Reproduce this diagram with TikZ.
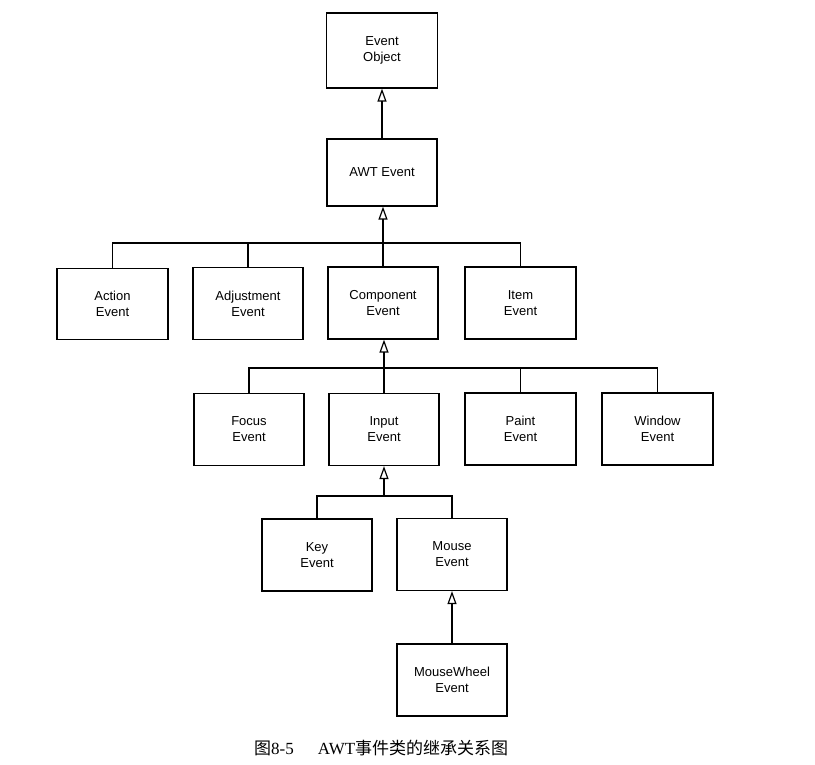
\documentclass[tikz,border=0pt]{standalone}
\usepackage{fontspec}
\setmainfont{Liberation Sans}
\newfontfamily\cjkfont{Noto Sans CJK SC}
\newfontfamily\capserif{Liberation Serif}
\usetikzlibrary{arrows.meta}
\begin{document}
\begin{tikzpicture}[x=1pt,y=-1pt,
  cls/.style={draw, line width=1.3pt, minimum width=110pt, minimum height=72pt,
    inner sep=0pt, align=center, font=\fontsize{13}{16}\selectfont},
  link/.style={line width=1.2pt},
  inherit/.style={line width=1.2pt, -{Triangle[open, width=9pt, length=13pt, line width=1.2pt]}}]
\useasboundingbox (0,0) rectangle (815,765);
\fill[white] (0,0) rectangle (815,765);
% nodes
\node[cls, minimum width=111pt, minimum height=75pt] (eo) at (382,50.5) {Event\\Object};
\node[cls, minimum height=67pt] (awt) at (382,172.5) {AWT Event};
\node[cls, minimum width=111pt, minimum height=71pt] (action) at (112.5,304) {Action\\Event};
\node[cls] (adjust) at (248,303.5) {Adjustment\\Event};
\node[cls] (component) at (383,303) {Component\\Event};
\node[cls, minimum width=111pt] (item) at (520.5,303) {Item\\Event};
\node[cls] (focus) at (249,429.5) {Focus\\Event};
\node[cls] (input) at (384,429.5) {Input\\Event};
\node[cls, minimum width=111pt] (paint) at (520.5,429) {Paint\\Event};
\node[cls, minimum width=111pt] (window) at (657.5,429) {Window\\Event};
\node[cls] (key) at (317,555) {Key\\Event};
\node[cls] (mouse) at (452,554.5) {Mouse\\Event};
\node[cls] (wheel) at (452,680) {MouseWheel\\Event};
% bus junctions
\coordinate (b1) at (383,243);
\coordinate (b2) at (384,368);
\coordinate (b3) at (384,496);
% connectors
\draw[inherit] (awt) -- (eo);
\draw[link] (action.north) |- (b1) -| (item.north);
\draw[link] (adjust.north) |- (b1);
\draw[link] (component.north) -- (b1);
\draw[inherit] (b1) -- (b1 |- awt.south);
\draw[link] (focus.north) |- (b2) -| (window.north);
\draw[link] (paint.north) |- (b2);
\draw[link] (input.north) -- (b2);
\draw[inherit] (b2) -- (b2 |- component.south);
\draw[link] (key.north) |- (b3) -| (mouse.north);
\draw[inherit] (b3) -- (input.south);
\draw[inherit] (wheel) -- (mouse);
% caption
\node[anchor=west, inner sep=0pt, font=\fontsize{17}{20}\selectfont] (cap) at (254,748)
  {\cjkfont 图\capserif 8-5\hspace{24pt}AWT\cjkfont 事件类的继承关系图};
\end{tikzpicture}
\end{document}
